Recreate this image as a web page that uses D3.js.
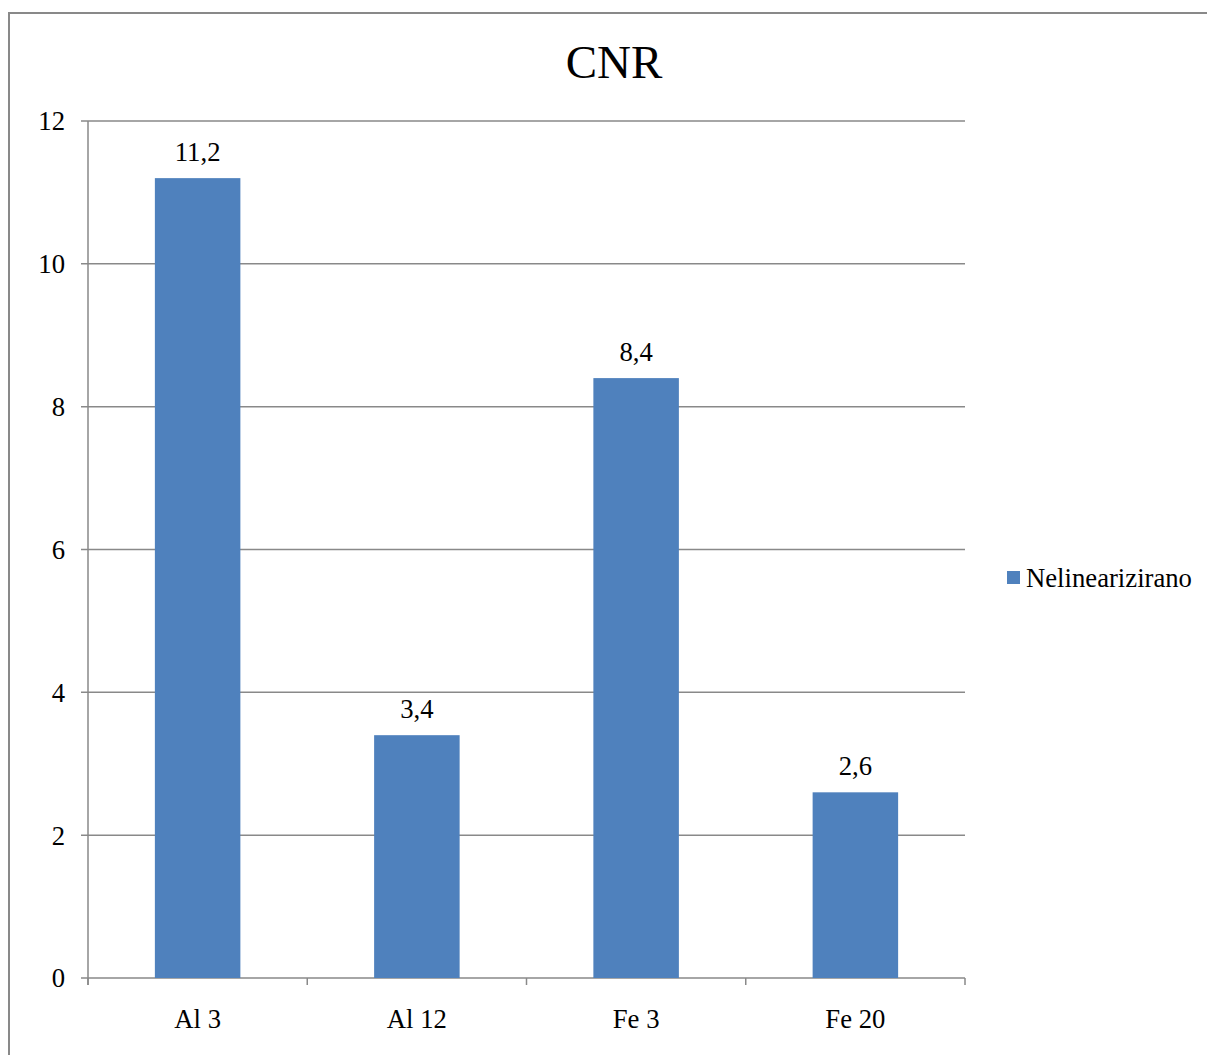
<!DOCTYPE html>
<html>
<head>
<meta charset="utf-8">
<script src="https://cdn.jsdelivr.net/npm/d3@7"></script>
</head>
<body style="margin:0">
<div id="chart"></div>
<script>
var categories = ["Al 3", "Al 12", "Fe 3", "Fe 20"];
var values = [11.2, 3.4, 8.4, 2.6];
var valueLabels = ["11,2", "3,4", "8,4", "2,6"];
var yTicks = [0, 2, 4, 6, 8, 10, 12];
var seriesName = "Nelinearizirano";
var title = "CNR";

var width = 1207, height = 1055;
var margin = {left: 88, top: 121, right: 242, bottom: 77};
var barColor = "#4F81BD";
var lineColor = "#898989";
var serif = "'Liberation Serif'";

var svg = d3.select("#chart")
  .append("svg")
  .attr("width", width)
  .attr("height", height);

// outer frame (runs off the right and bottom edges)
svg.append("rect")
  .attr("x", 9).attr("y", 13)
  .attr("width", 1220).attr("height", 1080)
  .attr("fill", "none")
  .attr("stroke", lineColor)
  .attr("stroke-width", 2);

var plotW = width - margin.left - margin.right;
var plotH = height - margin.top - margin.bottom;

var x = d3.scaleBand()
  .domain(categories)
  .range([0, plotW])
  .paddingInner(0.61)
  .paddingOuter(0.305);

var y = d3.scaleLinear()
  .domain([0, 12])
  .range([plotH, 0]);

var g = svg.append("g")
  .attr("transform", "translate(" + margin.left + "," + margin.top + ")");

// gridlines
g.selectAll(".grid")
  .data(yTicks)
  .enter()
  .append("line")
    .attr("x1", -7)
    .attr("x2", plotW)
    .attr("y1", function(d){ return y(d); })
    .attr("y2", function(d){ return y(d); })
    .attr("stroke", lineColor)
    .attr("stroke-width", 1.5);

// y axis line
g.append("line")
  .attr("x1", 0).attr("x2", 0)
  .attr("y1", 0).attr("y2", plotH + 7)
  .attr("stroke", lineColor)
  .attr("stroke-width", 1.5);

// x ticks at category boundaries
var step = plotW / categories.length;
g.selectAll(".xtick")
  .data(d3.range(categories.length + 1))
  .enter()
  .append("line")
    .attr("x1", function(i){ return i * step; })
    .attr("x2", function(i){ return i * step; })
    .attr("y1", plotH)
    .attr("y2", plotH + 7)
    .attr("stroke", lineColor)
    .attr("stroke-width", 1.5);

// y tick labels
g.selectAll(".ylab")
  .data(yTicks)
  .enter()
  .append("text")
    .attr("x", -23)
    .attr("y", function(d){ return y(d); })
    .attr("dy", "0.35em")
    .attr("text-anchor", "end")
    .style("font-family", serif)
    .style("font-size", "26.7px")
    .text(function(d){ return d; });

// bars
g.selectAll(".bar")
  .data(values)
  .enter()
  .append("rect")
    .attr("x", function(d, i){ return x(categories[i]); })
    .attr("y", function(d){ return y(d); })
    .attr("width", x.bandwidth())
    .attr("height", function(d){ return plotH - y(d); })
    .attr("fill", barColor);

// value labels
g.selectAll(".vlab")
  .data(values)
  .enter()
  .append("text")
    .attr("x", function(d, i){ return x(categories[i]) + x.bandwidth() / 2; })
    .attr("y", function(d){ return y(d) - 17; })
    .attr("text-anchor", "middle")
    .style("font-family", serif)
    .style("font-size", "26.7px")
    .text(function(d, i){ return valueLabels[i]; });

// category labels
g.selectAll(".xlab")
  .data(categories)
  .enter()
  .append("text")
    .attr("x", function(d){ return x(d) + x.bandwidth() / 2; })
    .attr("y", plotH + 50)
    .attr("text-anchor", "middle")
    .style("font-family", serif)
    .style("font-size", "26.7px")
    .text(function(d){ return d; });

// title
svg.append("text")
  .attr("x", 614)
  .attr("y", 78)
  .attr("text-anchor", "middle")
  .style("font-family", serif)
  .style("font-size", "47px")
  .text(title);

// legend
svg.append("rect")
  .attr("x", 1007).attr("y", 571)
  .attr("width", 13).attr("height", 13)
  .attr("fill", barColor);
svg.append("text")
  .attr("x", 1026).attr("y", 587)
  .style("font-family", serif)
  .style("font-size", "26.7px")
  .text(seriesName);
</script>
</body>
</html>
